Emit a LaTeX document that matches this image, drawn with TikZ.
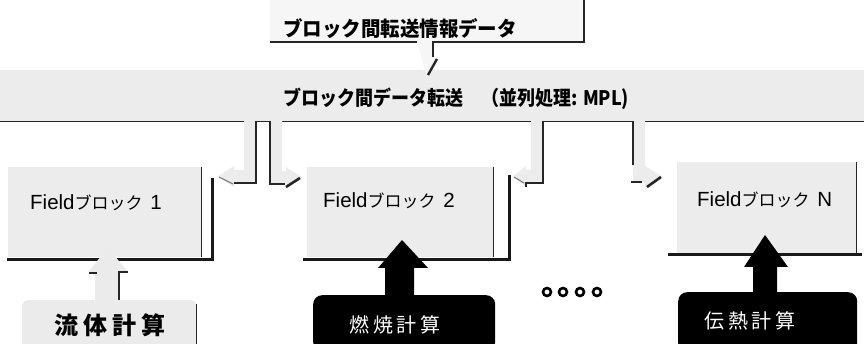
\documentclass[tikz,border=0pt]{standalone}
\usepackage{fontspec}
\usepackage{graphicx}
\newfontfamily\jp{Noto Sans CJK JP}
\newfontfamily\lat{Liberation Sans}
\usetikzlibrary{calc}
\newcommand{\fieldlabel}[1]{{\lat\fontsize{20.5}{24}\selectfont Field}ブロック\ \ {\lat\fontsize{20.5}{24}\selectfont #1}}
\begin{document}
\begin{tikzpicture}[x=1pt,y=-1pt,
  lite/.style={fill=gray!15, draw=none, inner sep=0pt},
  edge/.style={draw=black!85, line width=1.6pt},
  heavy/.style={draw=black!90, line width=3.6pt},
  blackbox/.style={fill=black, draw=none, rounded corners=9pt, inner sep=0pt, anchor=north west},
  jtext/.style={inner sep=0pt, anchor=west, font={\jp\fontsize{17}{20}\selectfont}},
  headtext/.style={inner sep=0pt, anchor=west, font={\jp\bfseries\fontsize{20}{24}\selectfont}},
  dot/.style={circle, draw=black, line width=2.6pt, fill=white, minimum size=8pt, inner sep=0pt}]
\useasboundingbox (0,0) rectangle (864,344);
\clip (0,0) rectangle (864,344);
\fill[white] (0,0) rectangle (864,344);

% ---------- bar ----------
\node[lite, minimum width=864pt, minimum height=51pt, anchor=north west] (bar) at (0,70) {};
\draw[edge] (bar.south west) -- (bar.south east);
\node[headtext] (bart) at (283,99) {\scalebox{0.9}[1]{ブロック間データ転送　（並列処理: MPL)}};

% ---------- callout ----------
\fill[gray!7] (270,-5) -- (584,-5) -- (584,42) -- (433,42) -- (433,58) -- (437,58) -- (427,77) -- (417,42) -- (270,42) -- cycle;
\draw[edge] (270,42) -- (417,42);
\draw[edge] (433,57) -- (433,42) -- (584,42) -- (584,-2);
\draw[edge, line width=2.4pt] (437,59) -- (428,75);
\node[headtext, font={\jp\bfseries\fontsize{20.5}{24}\selectfont}] (callt) at (283,29) {\scalebox{0.95}[1]{ブロック間転送情報データ}};

% ---------- field blocks ----------
\node[lite, minimum width=193pt, minimum height=90pt, anchor=north west] (b1) at (8,167) {};
\draw[edge] (b1.north east) -- (b1.south east);
\draw[heavy] ($(b1.north east)+(11,11)$) |- ($(b1.south west)+(-1,2)$);
\node[jtext] (b1t) at (30,203) {\fieldlabel{1}};

\node[lite, minimum width=186pt, minimum height=90pt, anchor=north west] (b2) at (307,167) {};
\draw[edge] (b2.north east) -- (b2.south east);
\draw[heavy] ($(b2.north east)+(16,8)$) |- ($(b2.south west)+(-4,2)$);
\node[jtext] (b2t) at (323,201) {\fieldlabel{2}};

\node[lite, minimum width=179pt, minimum height=92pt, anchor=north west] (bN) at (677,162) {};
\draw[edge] (bN.north east) -- (bN.south east);
\draw[heavy] ($(bN.south west)+(-9,0)$) -- ($(bN.south east)+(6,0)$);
\node[jtext] (bNt) at (697,200) {\fieldlabel{N}};

% ---------- connectors from bar ----------
\coordinate (cA) at (256,121);
\coordinate (cB) at (270,121);
\coordinate (cC) at (543,121);
\coordinate (cD) at (633,121);
% A: to block 1 (left)
\fill[gray!15] (cA) -- (256,183) -- (234,183) -- (234,187) -- (218,176.5) -- (234,166) -- (234,170) -- (244,170) -- (244,121) -- cycle;
\draw[edge] (cA) -- (256,183) -- (234,183);
\draw[draw=black!55, line width=1pt] (233,184) -- (219,177);
% B: to block 2 (right)
\fill[gray!15] (cB) -- (270,184) -- (286,184) -- (286,188) -- (302,177.5) -- (286,167) -- (286,171) -- (282,171) -- (282,121) -- cycle;
\draw[edge] (cB) -- (270,184) -- (285,184);
\draw[edge, line width=2.6pt] (286,187) -- (300,178);
% C: to block 2 (left)
\fill[gray!15] (cC) -- (543,183) -- (526,183) -- (526,187) -- (513,176.5) -- (526,166) -- (526,170) -- (531,170) -- (531,121) -- cycle;
\draw[edge] (cC) -- (543,183) -- (526,183) -- (526,187);
\draw[draw=black!55, line width=1pt] (524,183) -- (514,177);
% D: to block N (right)
\fill[gray!15] (cD) -- (633,183) -- (645,183) -- (645,187) -- (662,176.5) -- (645,166) -- (645,121) -- cycle;
\draw[edge] (cD) -- (633,165);
\draw[edge] (631,182) -- (642,182);
\draw[edge, line width=2.6pt] (647,187) -- (661,177);

% ---------- lower boxes and up arrows ----------
\node[fill=gray!16, rounded corners=5pt, inner sep=0pt, anchor=north west, minimum width=174pt, minimum height=50pt] (fl) at (22,300) {};
\draw[edge] ($(fl.north east)+(0,4)$) -- (fl.south east);
\node[inner sep=0pt, font={\jp\bfseries\fontsize{24}{28}\selectfont}] (flt) at (110,325) {流\hspace{5pt}体\hspace{5pt}計\hspace{5pt}算};
\fill[gray!16] (95,300) -- (95,272) -- (88,272) -- (108,248) -- (128,272) -- (119,272) -- (119,300) -- cycle;
\draw[edge] (119,300) -- (119,272) -- (128,272);
\draw[edge] (89,273) -- (97,273);

\node[blackbox, minimum width=182pt, minimum height=56pt] (burn) at (313,295) {};
\node[inner sep=0pt, text=white, font={\jp\fontsize{20}{24}\selectfont}] (burnt) at (395,325) {燃\hspace{3.5pt}焼\hspace{3.5pt}計\hspace{3.5pt}算};
\fill[black] (385,296) -- (385,268) -- (378,268) -- (402,240) -- (428,268) -- (414,268) -- (414,296) -- cycle;

\node[blackbox, minimum width=179pt, minimum height=60pt] (heat) at (678,292) {};
\node[inner sep=0pt, text=white, font={\jp\fontsize{20}{24}\selectfont}] (heatt) at (750,321) {伝\hspace{3.5pt}熱\hspace{3.5pt}計\hspace{3.5pt}算};
\fill[black] (753,293) -- (753,267) -- (744,267) -- (765,235) -- (788,267) -- (777,267) -- (777,293) -- cycle;

% ---------- dots ----------
\node[dot] (d1) at (547,292) {};
\node[dot] (d2) at (563,292) {};
\node[dot] (d3) at (580,292) {};
\node[dot] (d4) at (597,292) {};
\end{tikzpicture}
\end{document}
